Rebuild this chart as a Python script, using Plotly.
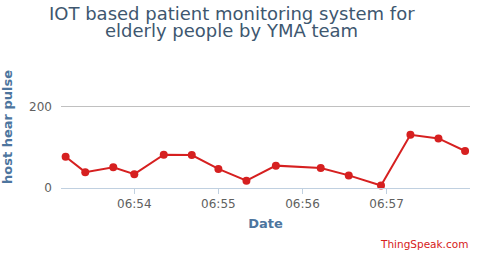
import plotly.graph_objects as go

times = ["2024-01-01 06:53:11", "2024-01-01 06:53:25", "2024-01-01 06:53:45",
         "2024-01-01 06:54:00", "2024-01-01 06:54:21", "2024-01-01 06:54:41",
         "2024-01-01 06:55:00", "2024-01-01 06:55:20", "2024-01-01 06:55:41",
         "2024-01-01 06:56:13", "2024-01-01 06:56:33", "2024-01-01 06:56:56",
         "2024-01-01 06:57:17", "2024-01-01 06:57:37", "2024-01-01 06:57:56"]
pulse = [77, 39, 51, 34, 82, 81, 47, 18, 55, 49, 31, 6, 131, 122, 91]

tick_vals = ["2024-01-01 06:54:00", "2024-01-01 06:55:00",
             "2024-01-01 06:56:00", "2024-01-01 06:57:00"]
tick_text = ["06:54", "06:55", "06:56", "06:57"]
y_ticks = [0, 200]
title_lines = ["IOT based patient monitoring system for", "elderly people by YMA team"]

fig = go.Figure()
fig.add_trace(go.Scatter(
    x=times, y=pulse, mode="lines+markers",
    line=dict(color="#d62020", width=2),
    marker=dict(color="#d62020", size=8),
    cliponaxis=False,
    showlegend=False, hoverinfo="skip"))

fig.update_layout(
    width=480, height=254,
    margin=dict(l=61, r=10, t=66, b=66, autoexpand=False),
    paper_bgcolor="white", plot_bgcolor="white",
    font=dict(family="DejaVu Sans"),
    xaxis=dict(range=["2024-01-01 06:53:07.7", "2024-01-01 06:57:59.5"],
               tickvals=tick_vals, ticktext=tick_text,
               showgrid=False, zeroline=False, automargin=False,
               showline=True, linecolor="#C0D0E0", linewidth=1,
               ticks="outside", ticklen=5, tickcolor="#C0D0E0",
               tickfont=dict(size=12, color="#606060"),
               title=dict(text="<b>Date</b>", font=dict(size=13, color="#4d759e"),
                          standoff=8)),
    yaxis=dict(range=[0, 300], tickvals=y_ticks,
               showgrid=True, gridcolor="#C0C0C0", gridwidth=1,
               zeroline=False, showline=False, automargin=False,
               tickfont=dict(size=12, color="#606060"),
               ticks="", ticklabelstandoff=8,
               title=dict(text="<b>host hear pulse</b>", font=dict(size=13, color="#4d759e"),
                          standoff=13)),
)
for line, yc in zip(title_lines, [1.434, 1.287]):
    fig.add_annotation(text=line, xref="paper", yref="paper", x=0.418, y=yc,
                       xanchor="center", yanchor="middle", showarrow=False,
                       font=dict(family="DejaVu Sans", size=18, color="#3e576f"))
fig.add_annotation(text="ThingSpeak.com", xref="paper", yref="paper",
                   x=1.0, y=-0.459, xanchor="right", yanchor="middle", showarrow=False,
                   font=dict(size=10.5, color="#d62020"))
fig.write_html("out.html", config={"displayModeBar": False, "staticPlot": True},
               post_script="document.body.style.margin='0';")
